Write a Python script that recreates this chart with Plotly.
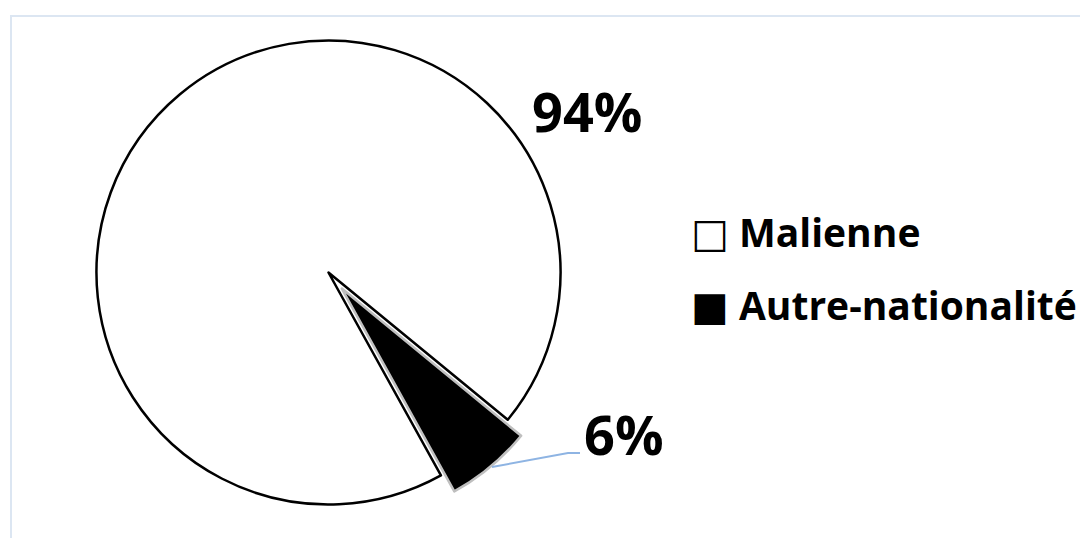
import plotly.graph_objects as go

labels = ['Malienne', 'Autre-nationalité']
values = [94, 6]
pct_text = ['94%', '6%']
legend_symbols = ['□', '■']
slice_colors = ['#FFFFFF', '#000000']
edge_colors = ['#000000', '#BFBFBF']

FONT = 'Open Sans'
W, H = 1088, 538
PAD = 8  # the page body adds an 8px margin


def px(x):
    return (x - PAD) / W


def py(y):
    return 1 - (y - PAD) / H


fig = go.Figure()
fig.add_trace(go.Pie(
    labels=labels,
    values=values,
    sort=False,
    direction='clockwise',
    rotation=151,
    pull=[0, 0.09],
    marker=dict(colors=slice_colors, line=dict(color=edge_colors, width=2.5)),
    textinfo='none',
    hoverinfo='label+percent',
    showlegend=False,
    domain=dict(x=[0.0621, 0.527], y=[0.0383, 0.9784]),
))

# data labels
fig.add_annotation(x=px(587), y=py(111), xref='paper', yref='paper',
                   xanchor='center', yanchor='middle',
                   text='<b>%s</b>' % pct_text[0], showarrow=False,
                   font=dict(family=FONT, size=54, color='#000000'))
fig.add_annotation(x=px(624), y=py(434), xref='paper', yref='paper',
                   xanchor='center', yanchor='middle',
                   text='<b>%s</b>' % pct_text[1], showarrow=False,
                   font=dict(family=FONT, size=54, color='#000000'))

# leader line for the small slice
fig.add_shape(type='path', xref='paper', yref='paper',
              path='M %f,%f L %f,%f L %f,%f' % (px(492), py(467), px(568), py(453), px(580), py(453)),
              line=dict(color='#8EB4E3', width=2))

# legend built from text so the squares can be large
for i, (sym, lab) in enumerate(zip(legend_symbols, labels)):
    fig.add_annotation(x=px(689), y=py(231 + 73 * i), xref='paper', yref='paper',
                       xanchor='left', yanchor='middle', showarrow=False,
                       text='<span style="font-family:DejaVu Sans;font-size:40px">%s</span> <b>%s</b>' % (sym, lab),
                       font=dict(family=FONT, size=39, color='#000000'))

# chart area border
fig.add_shape(type='rect', xref='paper', yref='paper',
              x0=px(11), y0=-0.05, x1=1.05, y1=py(16),
              line=dict(color='#DCE6F2', width=2), fillcolor='rgba(0,0,0,0)')

fig.update_layout(
    width=W, height=H,
    margin=dict(l=0, r=0, t=0, b=0),
    paper_bgcolor='#FFFFFF',
    plot_bgcolor='#FFFFFF',
)

fig.write_html('out.html')
